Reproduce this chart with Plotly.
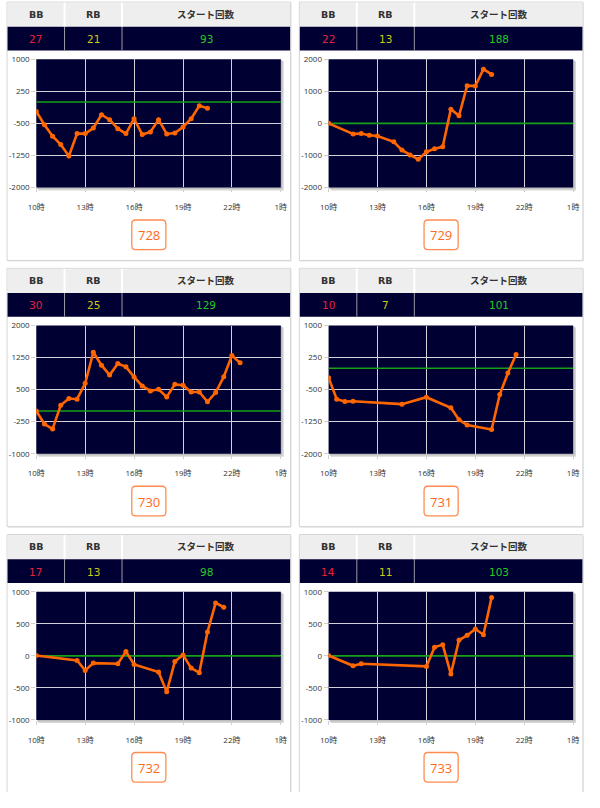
import plotly.graph_objects as go

# The page body keeps the browser's default 8px margin, so the figure is sized
# to fit inside the 600x808 window and reference pixels are shifted by 8px.
PAGE_MARGIN = 8
W, H = 600 - 2 * PAGE_MARGIN, 808 - 2 * PAGE_MARGIN

# ---------------- data ----------------
machines = ["728", "729", "730", "731", "732", "733"]
bb_counts = [27, 22, 30, 10, 17, 14]
rb_counts = [21, 13, 25, 7, 13, 11]
start_counts = [93, 188, 129, 101, 98, 103]
header_labels = ["BB", "RB", "スタート回数"]

y_ranges = [(-2000, 1000), (-2000, 2000), (-1000, 2000),
            (-2000, 1000), (-1000, 1000), (-1000, 1000)]
y_tick_values = [
    [-2000, -1250, -500, 250, 1000],
    [-2000, -1000, 0, 1000, 2000],
    [-1000, -250, 500, 1250, 2000],
    [-2000, -1250, -500, 250, 1000],
    [-1000, -500, 0, 500, 1000],
    [-1000, -500, 0, 500, 1000],
]
x_range = (10, 25)
x_tick_values = [10, 13, 16, 19, 22, 25]
x_tick_labels = ["10時", "13時", "16時", "19時", "22時", "1時"]
baseline_value = 0

hours_728 = [10, 10.5, 11, 11.5, 12, 12.5, 13, 13.5, 14, 14.5, 15, 15.5, 16, 16.5,
             17, 17.5, 18, 18.5, 19, 19.5, 20, 20.5]
diff_728 = [-222, -531, -802, -995, -1266, -740, -740, -609, -299, -415, -624, -740,
            -392, -763, -701, -415, -748, -725, -585, -392, -90, -145]

hours_729 = [10, 11.5, 12, 12.5, 13, 14, 14.5, 15, 15.5, 16, 16.5, 17, 17.5, 18,
             18.5, 19, 19.5, 20]
diff_729 = [0, -330, -320, -371, -392, -577, -835, -990, -1124, -887, -794, -732,
            443, 237, 1175, 1165, 1691, 1526]

hours_730 = [10, 10.5, 11, 11.5, 12, 12.5, 13, 13.5, 14, 14.5, 15, 15.5, 16, 16.5,
             17, 17.5, 18, 18.5, 19, 19.5, 20, 20.5, 21, 21.5, 22, 22.5]
diff_730 = [0, -305, -421, 136, 291, 275, 647, 1374, 1072, 840, 1111, 1033, 794, 585,
            469, 507, 329, 623, 600, 445, 445, 213, 430, 801, 1296, 1126]

hours_731 = [10, 10.5, 11, 11.5, 14.5, 16, 17.5, 18, 18.5, 20, 20.5, 21, 21.5]
diff_731 = [-222, -725, -779, -771, -841, -678, -926, -1204, -1328, -1436, -616,
            -114, 319]

hours_732 = [10, 12.5, 13, 13.5, 15, 15.5, 16, 17.5, 18, 18.5, 19, 19.5, 20, 20.5,
             21, 21.5]
diff_732 = [5, -72, -227, -113, -124, 67, -134, -253, -562, -88, 15, -191, -263,
            371, 825, 758]

hours_733 = [10, 11.5, 12, 16, 16.5, 17, 17.5, 18, 18.5, 19, 19.5, 20]
diff_733 = [5, -155, -124, -165, 134, 175, -284, 247, 320, 418, 330, 912]

hours_all = [hours_728, hours_729, hours_730, hours_731, hours_732, hours_733]
diff_all = [diff_728, diff_729, diff_730, diff_731, diff_732, diff_733]

# ---------------- layout helpers (reference window pixels) ----------------
card_lefts = [6, 306]
card_tops = [4, 274, 544]
CARD_W, CARD_H = 291, 262
col_edges = [0, 59, 118, 291]

NAVY = "#000033"
ORANGE = "#ff6600"


def px(x):
    return (x - PAGE_MARGIN) / W


def py(y):
    return 1 - (y - PAGE_MARGIN) / H


def rect(x0, y0, x1, y1, fill=None, line=None, lw=1, layer="below"):
    return dict(type="rect", xref="paper", yref="paper",
                x0=px(x0), x1=px(x1), y0=py(y1), y1=py(y0),
                fillcolor=fill if fill else "rgba(0,0,0,0)",
                line=dict(color=line if line else "rgba(0,0,0,0)", width=lw if line else 0),
                layer=layer)


def vline(x, y0, y1, color, lw=1):
    return dict(type="line", xref="paper", yref="paper",
                x0=px(x), x1=px(x), y0=py(y1), y1=py(y0),
                line=dict(color=color, width=lw), layer="below")


def rounded_path(x0, y0, x1, y1, r):
    pts = [
        f"M {px(x0 + r)} {py(y0)}",
        f"L {px(x1 - r)} {py(y0)}",
        f"Q {px(x1)} {py(y0)} {px(x1)} {py(y0 + r)}",
        f"L {px(x1)} {py(y1 - r)}",
        f"Q {px(x1)} {py(y1)} {px(x1 - r)} {py(y1)}",
        f"L {px(x0 + r)} {py(y1)}",
        f"Q {px(x0)} {py(y1)} {px(x0)} {py(y1 - r)}",
        f"L {px(x0)} {py(y0 + r)}",
        f"Q {px(x0)} {py(y0)} {px(x0 + r)} {py(y0)}",
        "Z",
    ]
    return " ".join(pts)


fig = go.Figure()
shapes = []
annotations = []
layout_axes = {}

HEAD_FONT = "Verdana, DejaVu Sans, Noto Sans CJK JP"
VAL_FONT = "Verdana, DejaVu Sans"
TICK_FONT = "Open Sans, Noto Sans CJK JP"

for i in range(6):
    col, row = i % 2, i // 2
    cx, cy = card_lefts[col], card_tops[row]
    n = i + 1
    xa = "x" if n == 1 else f"x{n}"
    ya = "y" if n == 1 else f"y{n}"

    # card
    shapes.append(rect(cx + 1, cy + 1, cx + CARD_W + 1, cy + CARD_H + 1, fill="#e6e6e6"))
    shapes.append(rect(cx, cy, cx + CARD_W, cy + CARD_H, fill="#ffffff", line="#d4d4d4"))
    # header row
    shapes.append(rect(cx + 0.5, cy + 0.5, cx + CARD_W - 0.5, cy + 25, fill="#eeeeee"))
    # values row
    shapes.append(rect(cx + 0.5, cy + 25, cx + CARD_W - 0.5, cy + 49, fill=NAVY))
    for e in col_edges[1:3]:
        shapes.append(vline(cx + e, cy + 0.5, cy + 25, "#ffffff", 2))
        shapes.append(vline(cx + e, cy + 25, cy + 49, "#9a9aa8", 1))
    values = [bb_counts[i], rb_counts[i], start_counts[i]]
    vcolors = ["#e8203c", "#cccc10", "#22cc22"]
    for k in range(3):
        xc = cx + (col_edges[k] + col_edges[k + 1]) / 2
        annotations.append(dict(xref="paper", yref="paper", x=px(xc), y=py(cy + 12.5),
                                text=f"<b>{header_labels[k]}</b>", showarrow=False,
                                xanchor="center", yanchor="middle",
                                font=dict(family=HEAD_FONT, size=9.5, color="#333333")))
        annotations.append(dict(xref="paper", yref="paper", x=px(xc), y=py(cy + 37.5),
                                text=str(values[k]), showarrow=False,
                                xanchor="center", yanchor="middle",
                                font=dict(family=VAL_FONT, size=10.5, color=vcolors[k])))

    # plot area
    pl, pr = cx + 30, cx + 281
    pt, pb = cy + 58, cy + 188
    shapes.append(rect(pl + 2, pt + 2, pr + 3, pb + 3, fill="#d6d6d6"))
    shapes.append(rect(pl + 1, pt + 1, pr + 1.5, pb + 1.5, fill="#bdbdbd"))
    shapes.append(rect(pl, pt, pr, pb, fill=NAVY))

    # number box
    shapes.append(dict(type="path", xref="paper", yref="paper",
                       path=rounded_path(cx + 128, cy + 221, cx + 163, cy + 251, 4),
                       line=dict(color="#ff8c50", width=1.3), fillcolor="#ffffff",
                       layer="below"))
    annotations.append(dict(xref="paper", yref="paper", x=px(cx + 145.5), y=py(cy + 236.5),
                            text=machines[i], showarrow=False, xanchor="center",
                            yanchor="middle",
                            font=dict(family="Open Sans", size=13, color="#ff6a1a")))

    # zero reference line (drawn under the data line)
    fig.add_trace(go.Scatter(x=list(x_range), y=[baseline_value, baseline_value],
                             mode="lines", xaxis=xa, yaxis=ya,
                             line=dict(color="#18a018", width=1.6),
                             showlegend=False, hoverinfo="skip"))

    fig.add_trace(go.Scatter(x=hours_all[i], y=diff_all[i], mode="lines+markers",
                             xaxis=xa, yaxis=ya,
                             line=dict(color=ORANGE, width=2.6),
                             marker=dict(color=ORANGE, size=5),
                             showlegend=False, hoverinfo="x+y"))

    xkey = "xaxis" if n == 1 else f"xaxis{n}"
    ykey = "yaxis" if n == 1 else f"yaxis{n}"
    layout_axes[xkey] = dict(
        domain=[px(pl), px(pr)], anchor=ya, range=list(x_range),
        tickvals=x_tick_values, ticktext=x_tick_labels,
        showgrid=True, gridcolor="#d2d2d8", gridwidth=1,
        zeroline=False, showline=False,
        ticks="outside", ticklen=4, tickcolor="#d0d0d0",
        ticklabelstandoff=8,
        tickfont=dict(family=TICK_FONT, size=8, color="#333333"),
        fixedrange=True)
    layout_axes[ykey] = dict(
        domain=[py(pb), py(pt)], anchor=xa, range=list(y_ranges[i]),
        tickvals=y_tick_values[i], ticktext=[str(v) for v in y_tick_values[i]],
        showgrid=True, gridcolor="#d2d2d8", gridwidth=1,
        zeroline=False, showline=False,
        ticks="outside", ticklen=4, tickcolor="#d0d0d0",
        tickfont=dict(family=TICK_FONT, size=8, color="#333333"),
        fixedrange=True)

fig.update_layout(
    width=W, height=H,
    margin=dict(l=0, r=0, t=0, b=0),
    paper_bgcolor="#ffffff",
    plot_bgcolor="rgba(0,0,0,0)",
    shapes=shapes,
    annotations=annotations,
    showlegend=False,
    **layout_axes,
)

fig.write_html("out.html", config={"displayModeBar": False})
